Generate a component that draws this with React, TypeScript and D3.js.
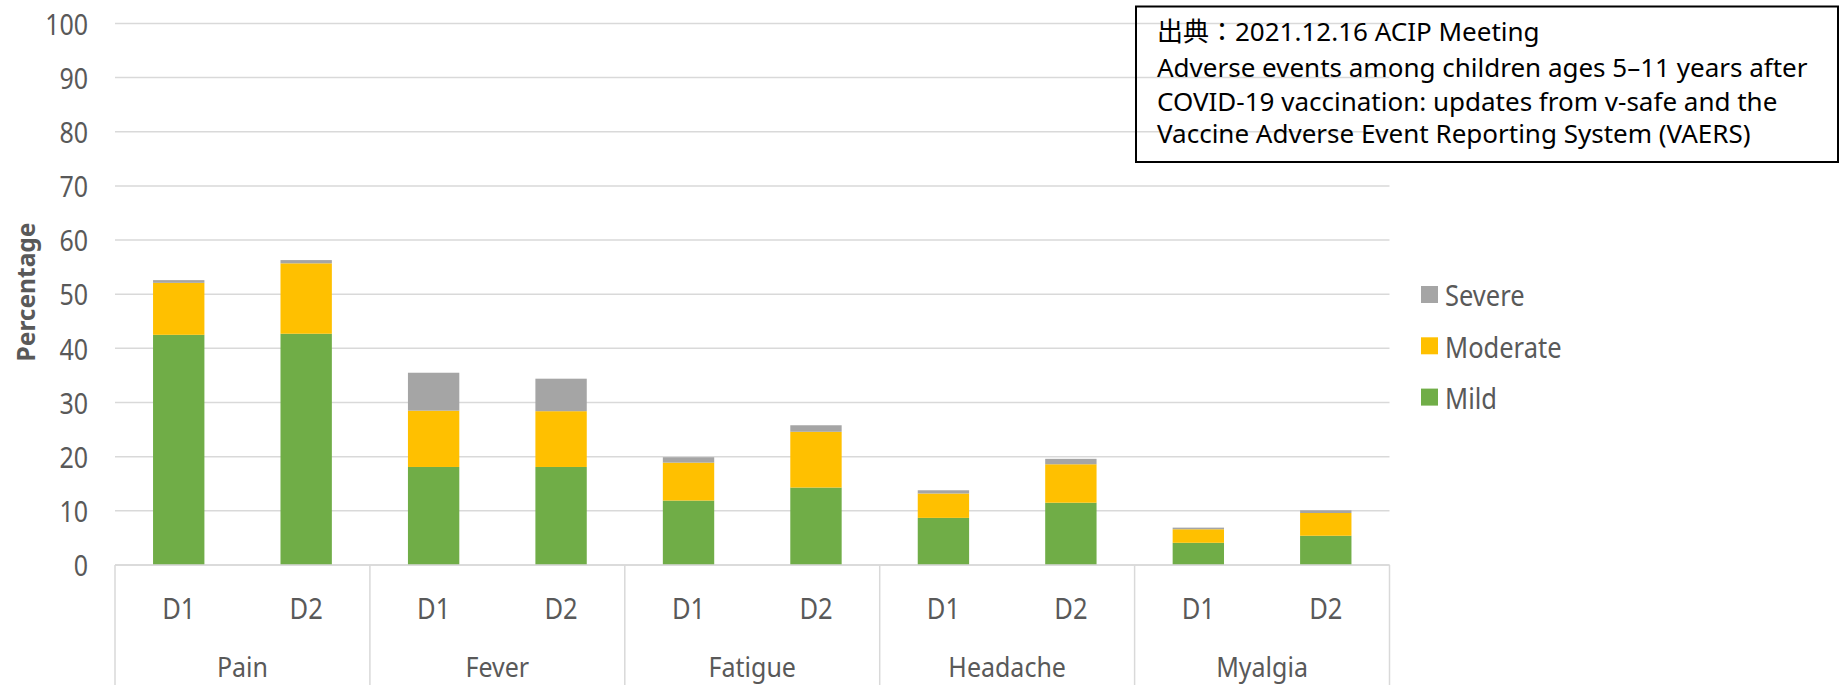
import React from "react";
import * as d3 from "d3";

const symptoms = ["Pain", "Fever", "Fatigue", "Headache", "Myalgia"];
const doses = ["D1", "D2"];
const severityKeys = ["Mild", "Moderate", "Severe"];
const legendOrder = ["Severe", "Moderate", "Mild"];
const colors: Record<string, string> = { Mild: "#70ad47", Moderate: "#ffc000", Severe: "#a5a5a5" };

// values per bar, order: Pain D1, Pain D2, Fever D1, Fever D2, ...
const mild = [42.5, 42.7, 18.1, 18.1, 11.9, 14.3, 8.7, 11.5, 4.1, 5.4];
const moderate = [9.6, 13.0, 10.4, 10.3, 7.0, 10.3, 4.5, 7.1, 2.5, 4.2];
const severe = [0.5, 0.6, 7.0, 6.0, 1.0, 1.2, 0.6, 1.0, 0.3, 0.5];
const yTicks = [0, 10, 20, 30, 40, 50, 60, 70, 80, 90, 100];
const sourceLines = [
  "出典：2021.12.16 ACIP Meeting",
  "Adverse events among children ages 5–11 years after",
  "COVID-19 vaccination: updates from v-safe and the",
  "Vaccine Adverse Event Reporting System (VAERS)",
];

const W = 1841;
const H = 685;
const left = 115;
const right = 1389.5;
const y0 = 565;
const y100 = 23.4;
const FONT = "'Noto Sans', 'Open Sans', sans-serif";
const TEXT = "#595959";
const GRID = "#d9d9d9";
const SY = 1.17;

export default function App() {
  const rows = symptoms.flatMap((s, i) =>
    doses.map((d, j) => {
      const k = i * doses.length + j;
      return { symptom: s, dose: d, Mild: mild[k], Moderate: moderate[k], Severe: severe[k] };
    })
  );
  const stacked = d3.stack<any>().keys(severityKeys)(rows);
  const x0 = d3.scaleBand<string>().domain(symptoms).range([left, right]).padding(0);
  const x1 = d3
    .scaleBand<string>()
    .domain(doses)
    .range([0, x0.bandwidth()])
    .paddingInner(0.597)
    .paddingOuter(0.2985);
  const y = d3.scaleLinear().domain([0, 100]).range([y0, y100]);

  const stretchText = (
    key: string,
    x: number,
    yy: number,
    txt: string,
    anchor: string,
    size = 24,
    sy = SY
  ) => (
    <text
      key={key}
      transform={`translate(${x},${yy}) scale(1,${sy})`}
      textAnchor={anchor}
      dominantBaseline="central"
      fontFamily={FONT}
      fontSize={size}
      fill={TEXT}
    >
      {txt}
    </text>
  );

  const boundaries = [...symptoms.map((s) => x0(s)!), right];

  return (
    <svg
      width={W}
      height={H}
      style={{ position: "absolute", left: 0, top: 0, background: "#fff" }}
    >
      {/* gridlines */}
      {yTicks.map((t) => (
        <line key={"g" + t} x1={left} x2={right} y1={y(t)} y2={y(t)} stroke={GRID} strokeWidth={1.5} />
      ))}
      {/* y tick labels */}
      {yTicks.map((t) => stretchText("t" + t, 88, y(t), String(t), "end", 25))}
      {/* y axis title */}
      <text
        transform={`translate(25,292) rotate(-90)`}
        textAnchor="middle"
        dominantBaseline="central"
        fontFamily={FONT}
        fontSize={24.5}
        fontWeight="bold"
        fill={TEXT}
      >
        Percentage
      </text>
      {/* bars */}
      {stacked.map((layer) => (
        <g key={layer.key} fill={colors[layer.key]}>
          {layer.map((seg, i) => {
            const r = rows[i];
            const bx = x0(r.symptom)! + x1(r.dose)!;
            return (
              <rect
                key={i}
                x={bx}
                width={x1.bandwidth()}
                y={y(seg[1])}
                height={y(seg[0]) - y(seg[1])}
              />
            );
          })}
        </g>
      ))}
      {/* x axis baseline and separators */}
      <line x1={left} x2={right} y1={y0} y2={y0} stroke={GRID} strokeWidth={1.5} />
      {boundaries.map((b, i) => (
        <line key={"s" + i} x1={b} x2={b} y1={y0} y2={H} stroke={GRID} strokeWidth={1.5} />
      ))}
      {/* dose labels */}
      {rows.map((r, i) =>
        stretchText("d" + i, x0(r.symptom)! + x1(r.dose)! + x1.bandwidth() / 2, 607, r.dose, "middle", 25.5)
      )}
      {/* symptom labels */}
      {symptoms.map((s) => stretchText("c" + s, x0(s)! + x0.bandwidth() / 2, 666, s, "middle", 25, 1.12))}
      {/* legend */}
      {legendOrder.map((k, i) => {
        const cy = 294.5 + i * 51.3;
        return (
          <g key={"l" + k}>
            <rect x={1421} y={cy - 8.5} width={17} height={17} fill={colors[k]} />
            {stretchText("lt" + k, 1445, cy, k, "start", 25.5)}
          </g>
        );
      })}
      {/* source box */}
      <rect x={1136} y={6.5} width={702} height={155.5} fill="none" stroke="#000" strokeWidth={2} />
      {sourceLines.map((ln, i) => (
        <text
          key={"src" + i}
          x={1157}
          y={[40.7, 77.3, 110.7, 143.3][i]}
          fontFamily={"'Noto Sans', 'Noto Sans CJK TC', 'Noto Sans CJK JP', sans-serif"}
          fontSize={26}
          fill="#000"
        >
          {ln}
        </text>
      ))}
    </svg>
  );
}
